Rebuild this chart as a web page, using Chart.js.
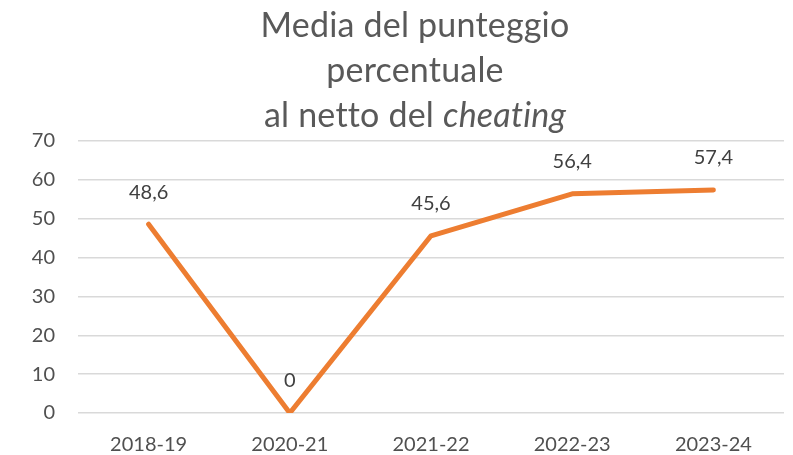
<!DOCTYPE html>
<html>
<head>
<meta charset="utf-8">
<script src="https://cdn.jsdelivr.net/npm/chart.js@4"></script>
<style>
  html, body { margin: 0; padding: 0; background: #fff; }
  #wrap { width: 793px; height: 455px; position: relative; }
</style>
</head>
<body>
<div id="wrap"><canvas id="chart" width="793" height="455"></canvas></div>
<script>
const years  = ['2018-19', '2020-21', '2021-22', '2022-23', '2023-24'];
const scores = [48.6, 0, 45.6, 56.4, 57.4];
const yTicks = [0, 10, 20, 30, 40, 50, 60, 70];
const titleLines = ['Media del punteggio', 'percentuale'];
const titleLast  = ['al netto del ', 'cheating'];

const FONT = 'Lato, "Open Sans", sans-serif';
const TSIZE = 34;

// title drawn on canvas so "cheating" can be italic
const titlePlugin = {
  id: 'mixedTitle',
  afterDraw(chart) {
    const c = chart.ctx, cx = 415;
    c.save();
    c.fillStyle = '#595959';
    c.textBaseline = 'alphabetic';
    if ('letterSpacing' in c) c.letterSpacing = '0.2px';
    c.font = `${TSIZE}px ${FONT}`;
    c.textAlign = 'center';
    c.fillText(titleLines[0], cx, 37);
    c.fillText(titleLines[1], cx, 82);
    const w1 = c.measureText(titleLast[0]).width;
    c.font = `italic ${TSIZE}px ${FONT}`;
    const w2 = c.measureText(titleLast[1]).width;
    let x = cx - (w1 + w2) / 2;
    c.textAlign = 'left';
    c.font = `${TSIZE}px ${FONT}`;
    c.fillText(titleLast[0], x, 127);
    c.font = `italic ${TSIZE}px ${FONT}`;
    c.fillText(titleLast[1], x + w1, 127);
    c.restore();
  }
};

// value labels above each point
const valueLabels = {
  id: 'valueLabels',
  afterDatasetsDraw(chart) {
    const c = chart.ctx;
    const meta = chart.getDatasetMeta(0);
    c.save();
    c.font = `20px ${FONT}`;
    c.fillStyle = '#404040';
    c.textAlign = 'center';
    c.textBaseline = 'middle';
    meta.data.forEach((pt, i) => {
      c.fillText(String(scores[i]).replace('.', ','), pt.x, pt.y - 32);
    });
    c.restore();
  }
};

new Chart(document.getElementById('chart'), {
  type: 'line',
  data: {
    labels: years,
    datasets: [{
      data: scores,
      borderColor: '#ED7D31',
      borderWidth: 5,
      borderCapStyle: 'round',
      borderJoinStyle: 'round',
      pointRadius: 0,
      tension: 0
    }]
  },
  options: {
    responsive: false,
    animation: false,
    events: [],
    layout: { padding: { top: 141, right: 9, left: 0, bottom: 0 } },
    plugins: { legend: { display: false }, tooltip: { enabled: false }, title: { display: false } },
    scales: {
      x: {
        offset: true,
        grid: { display: false },
        border: { display: false },
        ticks: { color: '#505050', font: { family: FONT, size: 20 }, padding: 12, maxRotation: 0 },
        afterFit: s => { s.height = 42; }
      },
      y: {
        min: 0, max: 70,
        afterBuildTicks: s => { s.ticks = yTicks.map(v => ({ value: v })); },
        grid: { color: '#d9d9d9', lineWidth: 1.5, drawTicks: false },
        border: { display: false },
        ticks: { color: '#505050', font: { family: FONT, size: 20 }, padding: 23 },
        afterFit: s => { s.width = 78; }
      }
    }
  },
  plugins: [titlePlugin, valueLabels]
});
</script>
</body>
</html>
